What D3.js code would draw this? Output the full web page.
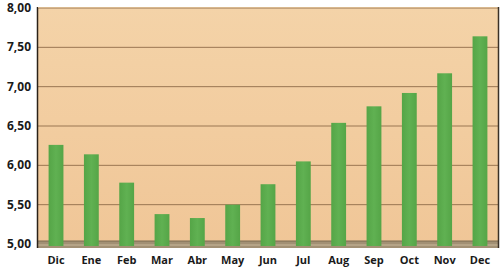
<html>
<head>
<script src="https://d3js.org/d3.v7.min.js"></script>
<style>
  body { margin: 0; background: #fff; }
  text { font-family: "Open Sans", "DejaVu Sans", sans-serif; font-weight: bold; fill: #1a1a1a; }
</style>
</head>
<body>
<div id="chart"></div>
<script>
// months and values
var months = ["Dic", "Ene", "Feb", "Mar", "Abr", "May", "Jun", "Jul", "Aug", "Sep", "Oct", "Nov", "Dec"];
var values = [6.26, 6.14, 5.78, 5.38, 5.33, 5.50, 5.76, 6.05, 6.54, 6.75, 6.92, 7.17, 7.64];
var yTicks = [5.0, 5.5, 6.0, 6.5, 7.0, 7.5, 8.0];

var width = 501, height = 268;
var plotLeft = 38, plotRight = 498, plotTop = 8, plotBottom = 244;

var svg = d3.select("#chart").append("svg")
  .attr("width", width).attr("height", height);

var defs = svg.append("defs");
var bg = defs.append("linearGradient").attr("id", "bg")
  .attr("x1", 0).attr("y1", 0).attr("x2", 0).attr("y2", 1);
bg.append("stop").attr("offset", "0%").attr("stop-color", "#f4d3a8");
bg.append("stop").attr("offset", "100%").attr("stop-color", "#f0c697");

var bar = defs.append("linearGradient").attr("id", "bar")
  .attr("x1", 0).attr("y1", 0).attr("x2", 1).attr("y2", 0);
bar.append("stop").attr("offset", "0%").attr("stop-color", "#55a547");
bar.append("stop").attr("offset", "50%").attr("stop-color", "#60b152");
bar.append("stop").attr("offset", "100%").attr("stop-color", "#55a547");

var x = d3.scaleBand().domain(months).range([plotLeft, plotRight]).paddingInner(0.58).paddingOuter(0.3);
var y = d3.scaleLinear().domain([5, 8]).range([plotBottom, plotTop]);

// back wall
svg.append("rect")
  .attr("x", plotLeft).attr("y", plotTop - 1)
  .attr("width", plotRight - plotLeft).attr("height", plotBottom - plotTop + 3)
  .attr("fill", "url(#bg)");

// gridlines
svg.append("g").selectAll("line")
  .data(yTicks.slice(1))
  .join("line")
  .attr("x1", plotLeft).attr("x2", plotRight)
  .attr("y1", function(d) { return y(d); })
  .attr("y2", function(d) { return y(d); })
  .attr("stroke", "#9a7652").attr("stroke-width", 1);

// floor
svg.append("rect")
  .attr("x", plotLeft).attr("y", y(5) - 3)
  .attr("width", plotRight - plotLeft).attr("height", 7)
  .attr("fill", "#a29074");
svg.append("line")
  .attr("x1", plotLeft).attr("x2", plotRight)
  .attr("y1", y(5) - 3).attr("y2", y(5) - 3)
  .attr("stroke", "#7d6a4f");
svg.append("line")
  .attr("x1", plotLeft).attr("x2", plotRight)
  .attr("y1", y(5) + 1).attr("y2", y(5) + 1)
  .attr("stroke", "#c9b89a");

// frame edges
svg.append("line")
  .attr("x1", plotLeft - 0.5).attr("x2", plotLeft - 0.5)
  .attr("y1", plotTop - 1).attr("y2", plotBottom + 4)
  .attr("stroke", "#2b2218").attr("stroke-width", 1.5);
svg.append("line")
  .attr("x1", plotLeft).attr("x2", plotRight)
  .attr("y1", plotTop - 0.5).attr("y2", plotTop - 0.5)
  .attr("stroke", "#d8b88e");
svg.append("line")
  .attr("x1", plotRight + 0.5).attr("x2", plotRight + 0.5)
  .attr("y1", plotTop - 1).attr("y2", plotBottom + 4)
  .attr("stroke", "#3a3026").attr("stroke-width", 1.5);

// bars
svg.append("g").selectAll("rect")
  .data(values)
  .join("rect")
  .attr("x", function(d, i) { return x(months[i]); })
  .attr("y", function(d) { return y(d); })
  .attr("width", x.bandwidth())
  .attr("height", function(d) { return y(5) + 2 - y(d); })
  .attr("fill", "url(#bar)");

// y labels
svg.append("g").selectAll("text")
  .data(yTicks)
  .join("text")
  .attr("x", 31)
  .attr("y", function(d) { return y(d) + 4; })
  .attr("text-anchor", "end")
  .style("font-size", "12px")
  .text(function(d) { return d3.format(".2f")(d).replace(".", ","); });

// x labels
svg.append("g").selectAll("text")
  .data(months)
  .join("text")
  .attr("x", function(d) { return x(d) + x.bandwidth() / 2; })
  .attr("y", 264)
  .attr("text-anchor", "middle")
  .style("font-size", "11px")
  .text(function(d) { return d; });
</script>
</body>
</html>
